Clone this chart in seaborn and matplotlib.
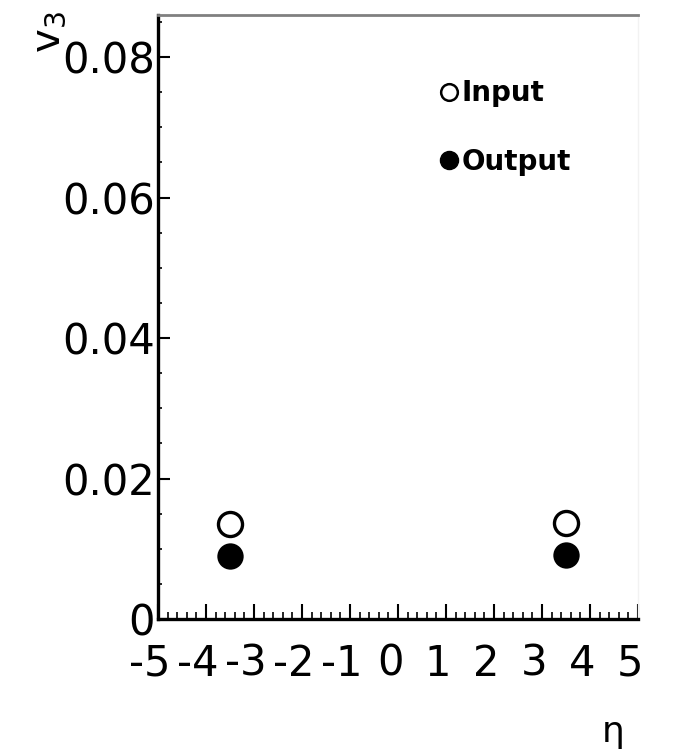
import matplotlib
matplotlib.use("Agg")
import matplotlib.pyplot as plt
import matplotlib.transforms as mtransforms
import seaborn as sns
import pandas as pd
from matplotlib.lines import Line2D
from matplotlib.ticker import MultipleLocator, FixedLocator

eta = [-3.5, 3.5]
v3_input = [0.0135, 0.0137]
v3_output = [0.0089, 0.0091]
xticks = [-5, -4, -3, -2, -1, 0, 1, 2, 3, 4, 5]
xticklabels = ["-5", "-4", "-3", "-2", "-1", "0", "1", "2", "3", "4", "5"]
yticks = [0, 0.02, 0.04, 0.06, 0.08]
yticklabels = ["0", "0.02", "0.04", "0.06", "0.08"]

sns.set_style("white")
plt.rcParams['font.family'] = ['DejaVu Sans']
plt.rcParams['text.color'] = 'black'
plt.rcParams['xtick.color'] = 'black'
plt.rcParams['ytick.color'] = 'black'

fig = plt.figure(figsize=(6.73, 7.52), dpi=100)
ax = fig.add_axes([158/673, 1-619/752, (638-158)/673, (619-15)/752])

df_in = pd.DataFrame({"eta": eta, "v3": v3_input})
df_out = pd.DataFrame({"eta": eta, "v3": v3_output})
sns.scatterplot(data=df_in, x="eta", y="v3", ax=ax, marker="o", s=300,
                facecolor="white", edgecolor="black", linewidth=2.4, zorder=3)
sns.scatterplot(data=df_out, x="eta", y="v3", ax=ax, marker="o", s=360,
                color="black", edgecolor="black", linewidth=0, zorder=3)

ax.set_xlim(-5, 5)
ax.set_ylim(0, 0.086)
ax.xaxis.set_major_locator(FixedLocator(xticks))
ax.set_xticklabels(xticklabels)
ax.xaxis.set_minor_locator(MultipleLocator(0.2))
ax.yaxis.set_major_locator(FixedLocator(yticks))
ax.set_yticklabels(yticklabels)
ax.yaxis.set_minor_locator(MultipleLocator(0.005))

ax.tick_params(axis="both", which="both", direction="in", color="black",
               labelcolor="black", bottom=True, left=True, top=False, right=False)
ax.tick_params(axis="both", which="major", labelsize=30, width=1.5)
ax.tick_params(axis="x", which="major", length=11, pad=17)
ax.tick_params(axis="y", which="major", length=8.5, pad=2)
ax.tick_params(axis="x", which="minor", length=5, width=1.2)
ax.tick_params(axis="y", which="minor", length=3, width=1.2)

# ROOT-style labels sit slightly left of their ticks
shift = mtransforms.ScaledTranslation(-8/100, 0, fig.dpi_scale_trans)
for lab in ax.get_xticklabels():
    lab.set_transform(lab.get_transform() + shift)

for side in ["left", "bottom"]:
    ax.spines[side].set_color("black")
    ax.spines[side].set_linewidth(2.4)
ax.spines["top"].set_color("#808080")
ax.spines["top"].set_linewidth(2)
ax.spines["right"].set_color("#f2f2f2")
ax.spines["right"].set_linewidth(1)

ax.set_xlabel("")
ax.set_ylabel("")
ax.text(-0.27, 1.006, "v$_3$", transform=ax.transAxes, rotation=90,
        fontsize=29, ha="left", va="top", color="black")
ax.text(0.973, -0.159, "η", transform=ax.transAxes, fontsize=26,
        ha="right", va="top", color="black")

handles = [
    Line2D([], [], marker="o", linestyle="none", markersize=12,
           markerfacecolor="white", markeredgecolor="black", markeredgewidth=1.8),
    Line2D([], [], marker="o", linestyle="none", markersize=13,
           markerfacecolor="black", markeredgecolor="black"),
]
leg = ax.legend(handles, ["Input", "Output"], loc="upper left",
                bbox_to_anchor=(0.565, 0.912), frameon=False,
                prop={"size": 20, "weight": "bold"}, handlelength=0.6,
                handletextpad=0.15, labelspacing=1.45, borderaxespad=0,
                labelcolor="black")

fig.savefig("out.png", dpi=100)
